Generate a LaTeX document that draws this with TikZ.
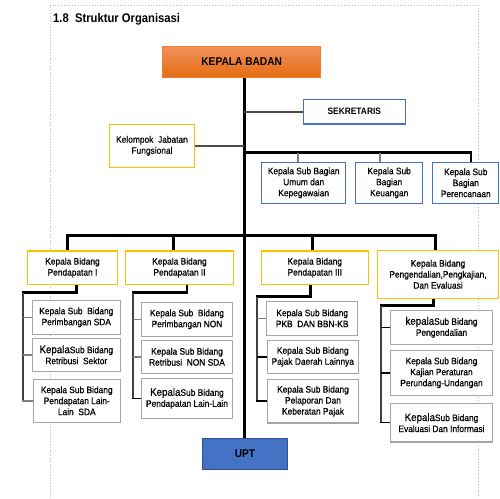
\documentclass[tikz,border=0pt]{standalone}
\usepackage{fontspec}
\setmainfont{Liberation Sans}[FakeStretch=0.9]
\newfontfamily\bodyfont{Liberation Sans}[FakeStretch=0.9, FakeBold=0.7]
\definecolor{gold}{HTML}{FFC000}
\definecolor{bblue}{HTML}{4472C4}
\definecolor{dblue}{HTML}{2F528F}
\definecolor{gbord}{HTML}{A6A6A6}
\definecolor{otop}{HTML}{F2925A}
\definecolor{obot}{HTML}{E46C12}
\definecolor{oline}{HTML}{ED7D31}
\definecolor{dotc}{HTML}{9DC3E6}
\begin{document}
\begin{tikzpicture}[x=1pt,y=-1pt,
  box/.style={draw, fill=white, inner sep=1pt, align=center, line width=1.1pt,
    font=\bodyfont\fontsize{9.3}{11}\selectfont},
  goldbox/.style={box, draw=gold},
  bluebox/.style={box, draw=bblue},
  graybox/.style={box, draw=gbord},
  trunkln/.style={line width=3.3pt, black},
  barln/.style={line width=3pt, black},
  dropln/.style={line width=2.6pt, black},
  elbln/.style={line width=2.6pt, black},
  spineln/.style={line width=2pt, black!75},
  stubln/.style={line width=1.6pt, black!50},
  armln/.style={line width=1.8pt, black!70},
  dotln/.style={dotc, line width=0.8pt, dotted}]
\useasboundingbox (0,0) rectangle (500,498);
% dotted frame
\draw[dotln] (50,498) -- (50,5) -- (478,5) -- (478,498);
\node[anchor=base west, font=\bfseries\fontsize{12.5}{14}\selectfont, inner sep=0pt] (title) at (53,22.7) {1.8\ \ Struktur Organisasi};

\coordinate (tk) at (244.3,0);
% nodes
\node[draw=oline, line width=0.8pt, top color=otop, bottom color=obot, minimum width=158pt, minimum height=31.3pt, inner sep=0pt, font=\bfseries\fontsize{11.3}{13}\selectfont] (kb) at (241.7,61.65) {KEPALA BADAN};
\node[bluebox, minimum width=102pt, minimum height=24.7pt, font=\bfseries\fontsize{9.3}{11}\selectfont] (sek) at (354.3,111.65) {SEKRETARIS};
\node[goldbox, minimum width=85.4pt, minimum height=43pt] (kjf) at (152,145.8) {Kelompok\ \ Jabatan\\Fungsional};
\node[bluebox, minimum width=84pt, minimum height=41pt] (umum) at (303.7,182.8) {Kepala Sub Bagian\\Umum dan\\Kepegawaian};
\node[bluebox, minimum width=67pt, minimum height=41pt] (keu) at (389.2,182.8) {Kepala Sub\\Bagian\\Keuangan};
\node[bluebox, minimum width=66pt, minimum height=41pt] (ren) at (465.8,182.8) {Kepala Sub\\Bagian\\Perencanaan};

\node[goldbox, minimum width=90.4pt, minimum height=33.3pt] (pb1) at (72.5,267.65) {Kepala Bidang\\Pendapatan I};
\node[goldbox, minimum width=108.4pt, minimum height=33.3pt] (pb2) at (179.5,267.65) {Kepala Bidang\\Pendapatan II};
\node[goldbox, minimum width=107pt, minimum height=33.3pt] (pb3) at (314.8,267.65) {Kepala Bidang\\Pendapatan III};
\node[goldbox, minimum width=121pt, minimum height=48pt] (pb4) at (438,274.3) {Kepala Bidang\\Pengendalian,Pengkajian,\\Dan Evaluasi};

\node[graybox, minimum width=88pt, minimum height=34pt] (s11) at (76.3,317.3) {Kepala Sub\ \ Bidang\\Perimbangan SDA};
\node[graybox, minimum width=88pt, minimum height=33pt] (s12) at (76.3,354.8) {{\fontsize{10.8}{11}\selectfont Kepala}Sub Bidang\\Retribusi\ \ Sektor};
\node[graybox, minimum width=87pt, minimum height=43pt] (s13) at (76.8,400.8) {Kepala Sub Bidang\\Pendapatan Lain-\\Lain\ \ SDA};

\node[graybox, minimum width=90.6pt, minimum height=34pt] (s21) at (187,319.3) {Kepala Sub\ \ Bidang\\Perimbangan NON};
\node[graybox, minimum width=90.6pt, minimum height=33pt] (s22) at (187,356.8) {Kepala Sub Bidang\\Retribusi\ \ NON SDA};
\node[graybox, minimum width=90.6pt, minimum height=40pt] (s23) at (187,398.3) {{\fontsize{10.8}{11}\selectfont Kepala}Sub Bidang\\Pendapatan Lain-Lain};

\node[graybox, minimum width=91pt, minimum height=34pt] (s31) at (312.2,318.3) {Kepala Sub Bidang\\PKB\ \ DAN BBN-KB};
\node[graybox, minimum width=91pt, minimum height=33pt] (s32) at (312.8,356.8) {Kepala Sub Bidang\\Pajak Daerah Lainnya};
\node[graybox, minimum width=91.4pt, minimum height=43.7pt] (s33) at (313,401.15) {Kepala Sub Bidang\\Pelaporan Dan\\Keberatan Pajak};

\node[graybox, minimum width=101.6pt, minimum height=34pt] (s41) at (441.5,327.3) {{\fontsize{10.8}{11}\selectfont kepala}Sub Bidang\\Pengendalian};
\node[graybox, minimum width=101.6pt, minimum height=45pt] (s42) at (441.5,372.8) {Kepala Sub Bidang\\Kajian Peraturan\\Perundang-Undangan};
\node[graybox, minimum width=101.6pt, minimum height=38.7pt] (s43) at (441.5,422.65) {{\fontsize{10.8}{11}\selectfont Kepala}Sub Bidang\\Evaluasi Dan Informasi};

\node[draw=dblue, line width=1pt, fill=bblue, minimum width=85.4pt, minimum height=31pt, font=\bfseries\fontsize{11.3}{13}\selectfont] (upt) at (245,453.8) {UPT};

% trunk and side arms
\draw[trunkln] (tk |- kb.south) -- (tk |- upt.north);
\draw[armln] (tk |- sek.west) -- (sek.west);
\draw[armln] (kjf.east) -- (tk |- kjf.east);

% sub bagian bar
\coordinate (gb1) at (297.7,152.7);
\coordinate (gb2) at (380,152.7);
\coordinate (gb3) at (471,152.7);
\draw[barln] (tk |- gb3) -- ([xshift=1.3pt]gb3);
\draw[stubln] (gb1) -- (gb1 |- umum.north);
\draw[stubln] (gb2) -- (gb2 |- keu.north);
\draw[line width=1.6pt, black] (gb3) -- (gb3 |- ren.north);

% bidang bar
\coordinate (bd1) at (67.7,235.7);
\coordinate (bd2) at (173.3,235.7);
\coordinate (bd3) at (312.3,235.7);
\coordinate (bd4) at (435.3,235.7);
\draw[barln] ([xshift=-1.3pt]bd1) -- ([xshift=1.3pt]bd4);
\draw[dropln] (bd1) -- (bd1 |- pb1.north);
\draw[dropln] (bd2) -- (bd2 |- pb2.north);
\draw[dropln] (bd3) -- (bd3 |- pb3.north);
\draw[dropln] (bd4) -- (bd4 |- pb4.north);

% column I
\coordinate (x1) at (76.7,292.7);
\coordinate (e1) at (23.3,292.7);
\draw[elbln] (x1 |- pb1.south) -- (x1) -- ([xshift=-1pt]e1);
\draw[spineln] (e1) -- (e1 |- s13.west);
\draw[stubln] (e1 |- s11.west) -- (s11.west);
\draw[stubln] (e1 |- s12.west) -- (s12.west);
\draw[stubln] ([xshift=-1pt]e1 |- s13.west) -- (s13.west);

% column II
\coordinate (x2) at (187,292.7);
\coordinate (e2) at (132.7,292.7);
\draw[elbln] (x2 |- pb2.south) -- (x2) -- ([xshift=-1pt]e2);
\draw[spineln] (e2) -- (e2 |- s23.west);
\draw[stubln] (e2 |- s21.west) -- (s21.west);
\draw[stubln] (e2 |- s22.west) -- (s22.west);
\draw[line width=1.6pt, black] ([xshift=-1pt]e2 |- s23.west) -- (s23.west);

% column III
\coordinate (x3) at (310.3,296.7);
\coordinate (e3) at (256.7,296.7);
\draw[elbln] (x3 |- pb3.south) -- (x3) -- ([xshift=-1pt]e3);
\draw[spineln] (e3) -- (e3 |- s33.west);
\draw[stubln] (e3 |- s31.west) -- (s31.west);
\draw[line width=1.6pt, black] (e3 |- s32.west) -- (s32.west);
\draw[line width=1.6pt, black] ([xshift=-1pt]e3 |- s33.west) -- (s33.west);

% column IV
\coordinate (x4) at (433.7,305.7);
\coordinate (e4) at (381.3,305.7);
\draw[elbln] (x4 |- pb4.south) -- (x4) -- ([xshift=-1pt]e4);
\draw[spineln] (e4) -- (e4 |- s43.west);
\draw[line width=1.6pt, black] (e4 |- s41.west) -- (s41.west);
\draw[line width=1.6pt, black] (e4 |- s42.west) -- (s42.west);
\draw[line width=1.6pt, black] ([xshift=-1pt]e4 |- s43.west) -- (s43.west);
\end{tikzpicture}
\end{document}
